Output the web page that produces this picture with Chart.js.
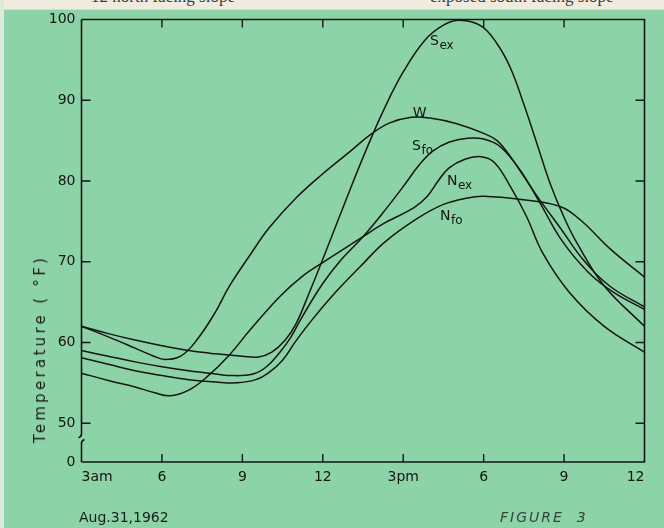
<!DOCTYPE html>
<html>
<head>
<meta charset="utf-8">
<title>Figure 3 - Temperature, Aug. 31, 1962</title>
<script src="https://cdn.jsdelivr.net/npm/chart.js"></script>
<style>
  html, body { margin: 0; padding: 0; }
  body { width: 664px; height: 528px; position: relative; overflow: hidden;
         background: #8cd4a7; font-family: "DejaVu Sans", sans-serif; }
  #paper { position: absolute; left: 0; top: 0; width: 664px; height: 9px; overflow: hidden;
           background: #f0ebdf; border-bottom: 1px solid #c9e2c8; }
  #paper span { position: absolute; top: -12px; font: 17px/17px "Liberation Serif", serif; color: #3b3b3b; }
  #edge { position: absolute; left: 0; top: 0; width: 4px; height: 528px; background: #dfe9db; }
  #chart { position: absolute; left: 0; top: 0; }
  .note { position: absolute; color: #1c1c1c; font-size: 14px; white-space: nowrap; }
  #ytitle { left: 40px; top: 349px; transform: translate(-50%, -50%) rotate(-90deg);
            letter-spacing: 3.3px; font-size: 15px; }
</style>
</head>
<body>
<div id="paper">
  <span style="left:91px">12 north facing slope</span>
  <span style="left:430px">exposed south facing slope</span>
</div>
<div id="edge"></div>
<canvas id="chart" width="664" height="528"></canvas>
<div class="note" id="ytitle">Temperature ( °F)</div>
<div class="note" style="left:79px; top:509px;">Aug.31,1962</div>
<div class="note" style="left:500px; top:509px; font-style:italic; letter-spacing:2px; color:#34443a;">FIGURE&nbsp;&nbsp;3</div>

<script>
// hours since midnight (3 = 3 am, 24 = midnight), temperatures in °F
const wHours = [3, 4, 5, 5.7, 6.1, 6.7, 7.3, 8, 8.5, 9.3, 10, 11, 12, 13, 13.8, 14.5, 15.3, 16, 17, 18, 18.5, 19, 20, 20.9, 21.7, 22.7, 24];
const wTemps = [62, 60.7, 59.3, 58.3, 57.9, 58.3, 60.3, 63.8, 66.9, 70.9, 74.2, 77.9, 80.9, 83.6, 85.8, 87.2, 87.9, 87.8, 87.1, 85.9, 85, 83, 78.1, 74, 70.3, 67, 64.4];

const sexHours = [3, 4, 5, 6, 7, 8, 9, 9.6, 10.1, 10.6, 11, 11.5, 12, 13, 13.7, 14.3, 15, 15.8, 16.5, 17.1, 17.9, 18.5, 19, 19.5, 20, 20.5, 21, 21.5, 22.5, 24];
const sexTemps = [62, 61.1, 60.3, 59.6, 59, 58.6, 58.3, 58.2, 58.8, 60.3, 62.3, 66.2, 70.3, 78.8, 84.5, 89, 93.5, 97.4, 99.3, 99.9, 99.2, 97, 94, 89.5, 84.5, 79.5, 75.5, 72.2, 67, 62];

const sfoHours = [3, 4, 5, 6, 7, 8, 8.6, 9.4, 9.9, 10.4, 10.8, 11.2, 12, 12.7, 13.5, 14.3, 15, 15.6, 16.1, 16.7, 17.4, 18, 18.6, 19.35, 20.1, 20.9, 21.9, 22.85, 24];
const sfoTemps = [59, 58.3, 57.6, 57, 56.5, 56.1, 55.9, 56.1, 57, 58.8, 60.6, 63, 67.3, 70.3, 73.1, 76.3, 79.3, 82, 83.7, 84.8, 85.3, 85.2, 84.3, 81.4, 77.3, 72.7, 68.7, 66.2, 64.1];

const nexHours = [3, 4, 5, 5.7, 6.3, 7, 7.7, 8.5, 9.3, 10.4, 11.2, 12, 13.5, 14.2, 15.4, 15.9, 16.3, 16.7, 17.3, 17.9, 18.4, 19, 19.6, 20.2, 21.2, 22.5, 24];
const nexTemps = [56.2, 55.3, 54.5, 53.8, 53.4, 54.1, 55.8, 58.4, 61.6, 65.7, 68.1, 69.9, 73.1, 74.6, 76.7, 78.1, 80, 81.6, 82.7, 83, 82.3, 79.3, 75.6, 71.1, 66.2, 62, 58.8];

const nfoHours = [3, 4, 5, 6, 7, 8, 8.8, 9.5, 10, 10.5, 11, 11.6, 12.5, 13.4, 14.3, 15.5, 16.5, 17.4, 18, 19.4, 20.8, 21.6, 22.75, 24];
const nfoTemps = [58.1, 57.3, 56.5, 55.9, 55.4, 55.1, 55, 55.4, 56.3, 57.8, 60.2, 62.8, 66.3, 69.4, 72.4, 75.3, 77.1, 77.9, 78.1, 77.7, 76.9, 75.2, 71.5, 68.1];

const xTickHours = [3, 6, 9, 12, 15, 18, 21, 24];
const xTickLabels = ['3am', '6', '9', '12', '3pm', '6', '9', '12'];
// the axis is broken below 50: the "0" tick stands at 45.2 on the drawn scale
const yTickValues = [45.2, 50, 60, 70, 80, 90, 100];
const yTickLabels = ['0', '50', '60', '70', '80', '90', '100'];
const yBreak = [48.7, 47.5];

// curve names, subscripts, and where each name is written (hour, °F)
const curveNames = ['S', 'W', 'S', 'N', 'N'];
const curveSubs = ['ex', '', 'fo', 'ex', 'fo'];
const curveLabelHours = [16.0, 15.36, 15.33, 16.63, 16.37];
const curveLabelTemps = [96.8, 87.9, 83.85, 79.5, 75.2];

const ink = '#151515';
const pts = (hs, ts) => hs.map((h, i) => ({ x: h, y: ts[i] }));

const series = [
  pts(sexHours, sexTemps),
  pts(wHours, wTemps),
  pts(sfoHours, sfoTemps),
  pts(nexHours, nexTemps),
  pts(nfoHours, nfoTemps)
];

const frame = {
  id: 'frame',
  afterDatasetsDraw(chart) {
    const ctx = chart.ctx, a = chart.chartArea;
    const x = chart.scales.x, y = chart.scales.y;
    ctx.save();
    ctx.strokeStyle = ink;
    ctx.lineWidth = 1.6;

    ctx.beginPath();
    ctx.moveTo(a.left, a.top);
    ctx.lineTo(a.right, a.top);
    ctx.lineTo(a.right, a.bottom);
    ctx.lineTo(a.left, a.bottom);
    ctx.stroke();

    // left axis with the break mark
    const b1 = y.getPixelForValue(yBreak[0]), b2 = y.getPixelForValue(yBreak[1]);
    ctx.beginPath();
    ctx.moveTo(a.left, a.top);
    ctx.lineTo(a.left, b1);
    ctx.quadraticCurveTo(a.left, b1 + 3, a.left - 3, b1 + 4);
    ctx.moveTo(a.left + 3, b2 - 4);
    ctx.quadraticCurveTo(a.left, b2 - 3, a.left, b2);
    ctx.lineTo(a.left, a.bottom);
    ctx.stroke();

    // inward ticks on all four sides
    ctx.lineWidth = 1.4;
    ctx.beginPath();
    xTickHours.slice(1, -1).forEach(h => {
      const px = x.getPixelForValue(h);
      ctx.moveTo(px, a.bottom); ctx.lineTo(px, a.bottom - 8);
      ctx.moveTo(px, a.top); ctx.lineTo(px, a.top + 8);
    });
    yTickValues.slice(1, -1).forEach(v => {
      const py = y.getPixelForValue(v);
      ctx.moveTo(a.left, py); ctx.lineTo(a.left + 9, py);
      ctx.moveTo(a.right, py); ctx.lineTo(a.right - 9, py);
    });
    ctx.stroke();

    // curve names with subscripts
    ctx.fillStyle = ink;
    ctx.textBaseline = 'alphabetic';
    curveNames.forEach((name, i) => {
      const px = x.getPixelForValue(curveLabelHours[i]);
      const py = y.getPixelForValue(curveLabelTemps[i]);
      ctx.font = '14px "DejaVu Sans"';
      ctx.fillText(name, px, py);
      const w = ctx.measureText(name).width;
      ctx.font = '12px "DejaVu Sans"';
      ctx.fillText(curveSubs[i], px + w + 0.5, py + 4);
    });
    ctx.restore();
  }
};

new Chart(document.getElementById('chart').getContext('2d'), {
  type: 'line',
  data: {
    datasets: series.map(d => ({
      data: d,
      borderColor: ink,
      borderWidth: 1.5,
      pointRadius: 0,
      fill: false,
      tension: 0.4
    }))
  },
  options: {
    responsive: false,
    animation: false,
    devicePixelRatio: 1,
    layout: { padding: { top: 19.5, right: 19.5, left: 0, bottom: 0 } },
    plugins: { legend: { display: false }, tooltip: { enabled: false } },
    scales: {
      x: {
        type: 'linear', min: 3, max: 24,
        grid: { display: false, drawTicks: false },
        border: { display: false },
        afterBuildTicks: s => { s.ticks = xTickHours.map(v => ({ value: v })); },
        afterFit: s => { s.height = 66; },
        ticks: {
          align: 'inner', padding: 7, maxRotation: 0, autoSkip: false,
          color: ink, font: { family: 'DejaVu Sans', size: 14 },
          callback: (v, i) => xTickLabels[i]
        }
      },
      y: {
        type: 'linear', min: yTickValues[0], max: 100,
        grid: { display: false, drawTicks: false },
        border: { display: false },
        afterBuildTicks: s => { s.ticks = yTickValues.map(v => ({ value: v })); },
        afterFit: s => { s.width = 81.5; },
        ticks: {
          padding: 6, autoSkip: false,
          color: ink, font: { family: 'DejaVu Sans', size: 14 },
          callback: (v, i) => yTickLabels[i]
        }
      }
    }
  },
  plugins: [frame]
});
</script>
</body>
</html>
